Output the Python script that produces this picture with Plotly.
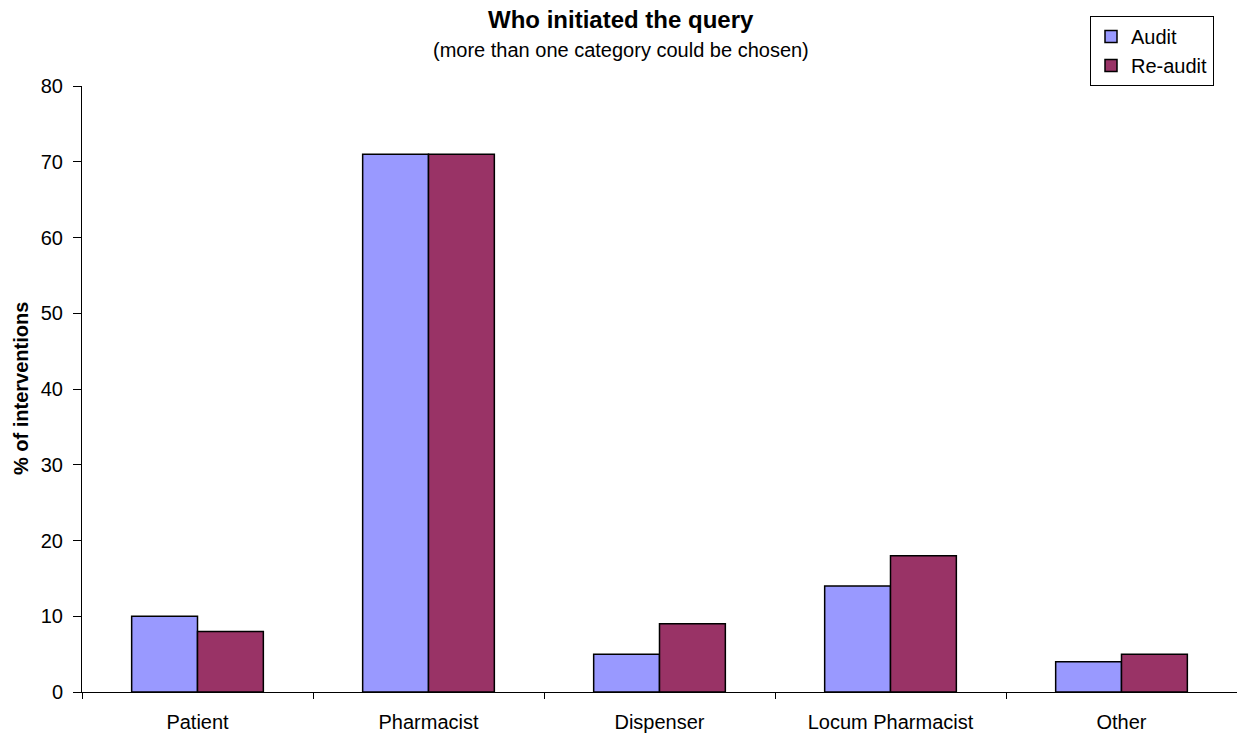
import plotly.graph_objects as go

categories = ["Patient", "Pharmacist", "Dispenser", "Locum Pharmacist", "Other"]
audit = [10, 71, 5, 14, 4]
reaudit = [8, 71, 9, 18, 5]
series_names = ["Audit", "Re-audit"]
y_ticks = [0, 10, 20, 30, 40, 50, 60, 70, 80]

FONT = "Liberation Sans, Arial, sans-serif"

fig = go.Figure()
fig.add_trace(go.Bar(x=categories, y=audit, name=series_names[0],
                     marker=dict(color="#9999FF", line=dict(color="#000000", width=1.5))))
fig.add_trace(go.Bar(x=categories, y=reaudit, name=series_names[1],
                     marker=dict(color="#993366", line=dict(color="#000000", width=1.5))))

fig.update_layout(
    width=1237, height=733,
    margin=dict(l=82, r=0, t=86, b=41),
    paper_bgcolor="white", plot_bgcolor="white",
    barmode="group", bargap=0.43, bargroupgap=0,
    font=dict(family=FONT, size=20, color="black"),
    showlegend=True,
    legend=dict(x=(1090 - 82) / 1155, y=(692 - 16) / 606, xanchor="left", yanchor="top",
                bordercolor="black", borderwidth=1, bgcolor="white",
                font=dict(family=FONT, size=20, color="black"),
                itemwidth=30, tracegroupgap=0),
    xaxis=dict(type="category", showline=True, linecolor="black", linewidth=1,
               ticks="outside", tickson="boundaries", ticklen=6, tickcolor="black",
               showgrid=False, tickfont=dict(family=FONT, size=20, color="black"),
               ticklabelstandoff=12, fixedrange=True),
    yaxis=dict(range=[0, 80], tickvals=y_ticks, showline=True, linecolor="black", linewidth=1,
               ticks="outside", ticklen=8, tickcolor="black", showgrid=False, zeroline=False,
               tickfont=dict(family=FONT, size=20, color="black"),
               ticklabelstandoff=6, fixedrange=True),
    annotations=[
        dict(text="<b>Who initiated the query</b>", xref="paper", yref="paper",
             x=0.467, y=(692 - 20) / 606, xanchor="center", yanchor="middle", showarrow=False,
             font=dict(family=FONT, size=24, color="black")),
        dict(text="(more than one category could be chosen)", xref="paper", yref="paper",
             x=0.467, y=(692 - 50) / 606, xanchor="center", yanchor="middle", showarrow=False,
             font=dict(family=FONT, size=20, color="black")),
        dict(text="<b>% of interventions</b>", xref="paper", yref="paper",
             x=-0.0528, y=0.5, xanchor="center", yanchor="middle", showarrow=False,
             textangle=-90, font=dict(family=FONT, size=20, color="black")),
    ],
)

fig.write_html("out.html")
